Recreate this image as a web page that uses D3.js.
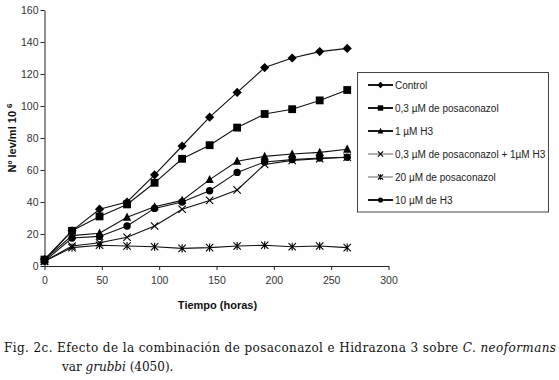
<!DOCTYPE html>
<html>
<head>
<meta charset="utf-8">
<script src="https://cdn.jsdelivr.net/npm/d3@7"></script>
<style>
  html, body { margin: 0; padding: 0; background: #fefefe; }
  svg { display: block; }
</style>
</head>
<body>
<svg id="chart" width="559" height="380"></svg>
<script>
// ---- data ----
const hours = [0, 24, 48, 72, 96, 120, 144, 168, 192, 216, 240, 264];
const seriesNames = [
  "Control",
  "0,3 \u00b5M de posaconazol",
  "1 \u00b5M H3",
  "0,3 \u00b5M de posaconazol + 1\u00b5M H3",
  "20 \u00b5M de posaconazol",
  "10 \u00b5M de H3"
];
const control   = [4, 22, 35.5, 40, 57, 75, 93, 108.5, 124, 130, 134, 136];
const posa03    = [4, 22, 31, 38.5, 52, 67, 75.5, 86.5, 95, 98, 103.5, 110];
const h3_1      = [4, 19, 20.5, 30.5, 37, 41, 54, 65.5, 68.5, 70, 71, 73];
const combo     = [3, 12.5, 14.5, 18, 25, 35.5, 41, 47.5, 63.5, 66, 67, 68];
const posa20    = [3, 11.5, 13, 12.5, 12, 11, 11.5, 12.5, 13, 12, 12.5, 11.5];
const h3_10     = [3, 17.5, 18.5, 25, 36, 40, 47, 58.5, 65, 66.5, 67.5, 68];
const xTicks = [0, 50, 100, 150, 200, 250, 300];
const yTicks = [0, 20, 40, 60, 80, 100, 120, 140, 160];

const allSeries = [control, posa03, h3_1, combo, posa20, h3_10];
const markerTypes = ["diamond", "square", "triangle", "cross", "asterisk", "circle"];

// ---- layout ----
const svg = d3.select("#chart");
const x = d3.scaleLinear().domain([0, 300]).range([44.5, 388.5]);
const y = d3.scaleLinear().domain([0, 160]).range([266, 10]);

const axisColor = "#222";
const g = svg.append("g");

// axes
const xAxis = g.append("g").attr("transform", `translate(0,${y(0)})`)
  .call(d3.axisBottom(x).tickValues(xTicks).tickSize(4).tickSizeOuter(0));
const yAxis = g.append("g").attr("transform", `translate(${x(0)},0)`)
  .call(d3.axisLeft(y).tickValues(yTicks).tickSize(4).tickSizeOuter(0));
[xAxis, yAxis].forEach(a => {
  a.select(".domain").attr("stroke", axisColor).attr("stroke-width", 1);
  a.selectAll(".tick line").attr("stroke", axisColor);
  a.selectAll(".tick text").attr("fill", "#333")
    .style("font-family", "'Liberation Sans', Arial, sans-serif")
    .style("font-size", "10.5px");
});
xAxis.selectAll(".tick text").attr("dy", "1.05em");
yAxis.selectAll(".tick text").attr("x", -6);

// axis titles
g.append("text")
  .attr("x", x(150) + 1).attr("y", 309)
  .attr("text-anchor", "middle")
  .style("font-family", "'Liberation Sans', Arial, sans-serif")
  .style("font-weight", "bold").style("font-size", "11px").attr("fill", "#111")
  .text("Tiempo (horas)");

const yt = g.append("text")
  .attr("transform", "translate(16,138) rotate(-90)")
  .attr("text-anchor", "middle")
  .style("font-family", "'Liberation Sans', Arial, sans-serif")
  .style("font-weight", "bold").style("font-size", "11px").attr("fill", "#111");
yt.append("tspan").text("N\u00ba lev/ml 10 ");
yt.append("tspan").attr("dy", "-0.5em").style("font-size", "8px").text("6");

// markers
function drawMarker(sel, type, cx, cy, s) {
  const p = sel.append("g").attr("transform", `translate(${cx},${cy})`);
  if (type === "diamond") {
    p.append("path").attr("d", `M0,${-s}L${s},0L0,${s}L${-s},0Z`).attr("fill", "#000");
  } else if (type === "square") {
    const h = s * 0.85;
    p.append("rect").attr("x", -h).attr("y", -h).attr("width", 2 * h).attr("height", 2 * h).attr("fill", "#000");
  } else if (type === "triangle") {
    p.append("path").attr("d", `M0,${-s}L${s * 0.9},${s * 0.75}L${-s * 0.9},${s * 0.75}Z`).attr("fill", "#000");
  } else if (type === "circle") {
    p.append("circle").attr("r", s * 0.8).attr("fill", "#000");
  } else if (type === "cross") {
    const h = s * 0.8;
    p.append("path").attr("d", `M${-h},${-h}L${h},${h}M${-h},${h}L${h},${-h}`)
      .attr("stroke", "#000").attr("stroke-width", 1.1).attr("fill", "none");
  } else if (type === "asterisk") {
    const h = s * 0.8;
    p.append("path").attr("d", `M${-h},${-h}L${h},${h}M${-h},${h}L${h},${-h}M0,${-h * 1.1}L0,${h * 1.1}`)
      .attr("stroke", "#000").attr("stroke-width", 1.1).attr("fill", "none");
  }
}

const line = d3.line().x((d, i) => x(hours[i])).y(d => y(d));

// draw lines (back to front)
const drawOrder = [4, 3, 5, 2, 1, 0];
drawOrder.forEach(si => {
  g.append("path").datum(allSeries[si]).attr("d", line)
    .attr("fill", "none").attr("stroke", "#111").attr("stroke-width", 1.1);
});
drawOrder.forEach(si => {
  allSeries[si].forEach((v, i) => drawMarker(g, markerTypes[si], x(hours[i]), y(v), 4.6));
});

// legend
const lg = g.append("g");
lg.append("rect").attr("x", 357.5).attr("y", 72.5).attr("width", 191).attr("height", 139.5)
  .attr("fill", "#fefefe").attr("stroke", "#444").attr("stroke-width", 1);
const legendStroke = [1.8, 1.8, 1.8, 0.9, 0.9, 1.8];
const legendColor = ["#000", "#000", "#000", "#555", "#555", "#000"];
seriesNames.forEach((name, i) => {
  const ly = 85 + i * 23;
  lg.append("line").attr("x1", 368).attr("x2", 393).attr("y1", ly).attr("y2", ly)
    .attr("stroke", legendColor[i]).attr("stroke-width", legendStroke[i]);
  drawMarker(lg, markerTypes[i], 380.5, ly, 3.2);
  lg.append("text").attr("x", 395).attr("y", ly + 3.6)
    .style("font-family", "'Liberation Sans', Arial, sans-serif")
    .style("font-size", "10px").attr("fill", "#222")
    .text(name);
});

// caption
const cap1 = svg.append("text").attr("x", 4).attr("y", 352)
  .attr("textLength", 552).attr("lengthAdjust", "spacing")
  .style("font-family", "'DejaVu Serif', 'Liberation Serif', serif")
  .style("font-size", "12px").attr("fill", "#111");
cap1.append("tspan").text("Fig. 2c. Efecto de la combinaci\u00f3n de posaconazol e Hidrazona 3 sobre ");
cap1.append("tspan").style("font-style", "italic").text("C. neoformans");

const cap2 = svg.append("text").attr("x", 62).attr("y", 371)
  .style("font-family", "'DejaVu Serif', 'Liberation Serif', serif")
  .style("font-size", "12px").attr("fill", "#111");
cap2.append("tspan").text("var ");
cap2.append("tspan").style("font-style", "italic").text("grubbi");
cap2.append("tspan").text(" (4050).");
</script>
</body>
</html>
